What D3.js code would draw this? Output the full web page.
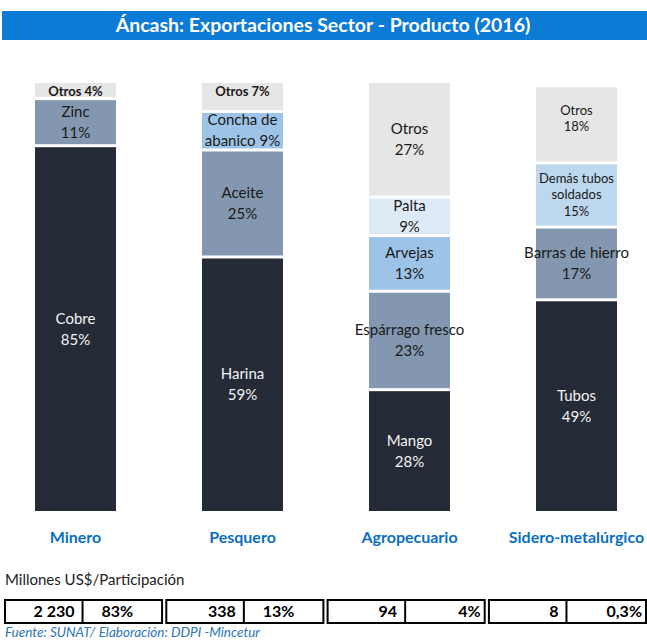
<!DOCTYPE html>
<html>
<head>
<meta charset="utf-8">
<script src="https://d3js.org/d3.v7.min.js"></script>
<style>
body {
  margin: 0;
  background: white;
  font-family: Lato, "Open Sans", Arial, sans-serif;
}
</style>
</head>
<body>
<div id="chart"></div>

<script>
// Data
const sectors = ["Minero", "Pesquero", "Agropecuario", "Sidero-metalúrgico"];

// products from bottom to top, {p} is where the percent goes, | breaks a line
const mineroProducts = ["Cobre|{p}", "Zinc|{p}", "Otros {p}"];
const mineroShares = [85, 11, 4];

const pesqueroProducts = ["Harina|{p}", "Aceite|{p}", "Concha de|abanico {p}", "Otros {p}"];
const pesqueroShares = [59, 25, 9, 7];

const agroProducts = ["Mango|{p}", "Espárrago fresco|{p}", "Arvejas|{p}", "Palta|{p}", "Otros|{p}"];
const agroShares = [28, 23, 13, 9, 27];

const sideroProducts = ["Tubos|{p}", "Barras de hierro|{p}", "Demás tubos|soldados|{p}", "Otros|{p}"];
const sideroShares = [49, 17, 15, 18];

// table under the chart
const millones = [2230, 338, 94, 8];
const participacion = [83, 13, 4, 0.3];

const title = "Áncash: Exportaciones Sector - Producto (2016)";
const unitLabel = "Millones US$/Participación";
const source = "Fuente: SUNAT/  Elaboración: DDPI -Mincetur";

// colours by position in the stack (last one is always "Otros")
const colDark = "#242b37", colMid = "#8497b0", colLight = "#9dc3e6",
      colLighter = "#bdd7ee", colPale = "#deebf7", colOtros = "#e7e6e6";
const sectorColors = [
  [colDark, colMid, colOtros],
  [colDark, colMid, colLight, colOtros],
  [colDark, colMid, colLight, colPale, colOtros],
  [colDark, colMid, colLighter, colOtros]
];

var productLists = [mineroProducts, pesqueroProducts, agroProducts, sideroProducts];
var shareLists = [mineroShares, pesqueroShares, agroShares, sideroShares];

// build stacked segments
var segments = [];
sectors.forEach(function(s, i) {
  var cum = 0;
  productLists[i].forEach(function(name, j) {
    segments.push({sector: s, name: name, value: shareLists[i][j], y0: cum, y1: cum + shareLists[i][j],
                   idx: j, color: sectorColors[i][j]});
    cum += shareLists[i][j];
  });
});

var width = 647, height = 642;
var svg = d3.select("#chart").append("svg")
  .attr("width", width)
  .attr("height", height);

// Title bar
svg.append("rect")
  .attr("x", 2).attr("y", 11)
  .attr("width", 645).attr("height", 29)
  .attr("fill", "#0b7bd6");
svg.append("text")
  .attr("x", 323).attr("y", 32)
  .attr("text-anchor", "middle")
  .attr("fill", "white")
  .style("font-size", "19.5px")
  .style("font-weight", "bold")
  .text(title);

// Scales
var xScale = d3.scaleBand()
  .domain(sectors)
  .range([-8, 660])
  .paddingInner(0.515)
  .paddingOuter(0.2575);

var yScale = d3.scaleLinear()
  .domain([0, 100])
  .range([511, 83]);

var gap = 3;

var bars = svg.append("g");
bars.selectAll("rect")
  .data(segments)
  .enter()
  .append("rect")
  .attr("x", d => xScale(d.sector))
  .attr("width", xScale.bandwidth())
  .attr("y", d => yScale(d.y1))
  .attr("height", d => yScale(d.y0) - yScale(d.y1) - (d.idx > 0 ? gap : 0))
  .attr("fill", d => d.color);

// segment labels
var smallLabels = ["Demás tubos|soldados|{p}"];
segments.forEach(function(d) {
  var pct = d.value + "%";
  var lines = d.name.replace("{p}", pct).split("|");
  var isOtrosSmall = lines.length == 1;
  var sideroOtros = d.sector == "Sidero-metalúrgico" && d.name.indexOf("Otros") == 0;
  var isSmall = isOtrosSmall || smallLabels.indexOf(d.name) >= 0 || sideroOtros;
  var fs = isOtrosSmall ? 13 : (isSmall ? 13 : 15);
  var lh = isSmall ? 16.5 : 21;
  var cx = xScale(d.sector) + xScale.bandwidth() / 2;
  var cy = (yScale(d.y1) + yScale(d.y0) - (d.idx > 0 ? gap : 0)) / 2;
  if (isOtrosSmall) cy = yScale(d.y1) + 8;
  if (sideroOtros) cy -= 6;
  var t = svg.append("text")
    .attr("text-anchor", "middle")
    .attr("fill", d.color == colDark ? "#f2f2f2" : "#1a1a1a")
    .style("font-size", fs + "px")
    .style("font-weight", isOtrosSmall ? "bold" : "normal");
  lines.forEach(function(l, k) {
    t.append("tspan")
      .attr("x", cx)
      .attr("y", cy + (k - (lines.length - 1) / 2) * lh + fs * 0.35)
      .text(l);
  });
});

// sector names
svg.append("g").selectAll("text")
  .data(sectors)
  .enter()
  .append("text")
  .attr("x", d => xScale(d) + xScale.bandwidth() / 2)
  .attr("y", 543)
  .attr("text-anchor", "middle")
  .attr("fill", "#0b6fc0")
  .style("font-size", "16px")
  .style("font-weight", "bold")
  .text(d => d);

svg.append("text")
  .attr("x", 5).attr("y", 585)
  .attr("fill", "#222")
  .style("font-size", "15px")
  .text(unitLabel);

// table
var fmt = d3.formatLocale({decimal: ",", thousands: " ", grouping: [3], currency: ["", ""]});
var fmtNum = fmt.format(",d");
var fmtPct = function(v) { return (v < 1 ? fmt.format(".1f")(v) : fmt.format("d")(v)) + "%"; };

var tScale = d3.scaleBand()
  .domain(sectors)
  .range([5, 647])
  .paddingInner(0.02)
  .paddingOuter(0);

var rowY = 600, rowH = 23;
var pctAnchor = ["middle", "middle", "end", "end"];
var table = svg.append("g");
sectors.forEach(function(s, i) {
  var gx = tScale(s), gw = tScale.bandwidth() - 1;
  var mid = gx + gw / 2 - 1;
  table.append("rect")
    .attr("x", gx).attr("y", rowY)
    .attr("width", gw).attr("height", rowH)
    .attr("fill", "none")
    .attr("stroke", "black")
    .attr("stroke-width", 2);
  table.append("line")
    .attr("x1", mid).attr("x2", mid)
    .attr("y1", rowY).attr("y2", rowY + rowH)
    .attr("stroke", "black")
    .attr("stroke-width", 2);
  table.append("text")
    .attr("x", mid - 8).attr("y", rowY + 17)
    .attr("text-anchor", "end")
    .style("font-size", "16px")
    .style("font-weight", "bold")
    .text(fmtNum(millones[i]));
  table.append("text")
    .attr("x", pctAnchor[i] == "end" ? gx + gw - 4 : (mid + gx + gw) / 2 - 5)
    .attr("y", rowY + 17)
    .attr("text-anchor", pctAnchor[i])
    .style("font-size", "16px")
    .style("font-weight", "bold")
    .text(fmtPct(participacion[i]));
});

svg.append("text")
  .attr("x", 5).attr("y", 637)
  .attr("fill", "#2e75b6")
  .style("font-size", "13.5px")
  .style("font-style", "italic")
  .text(source);
</script>
</body>
</html>
